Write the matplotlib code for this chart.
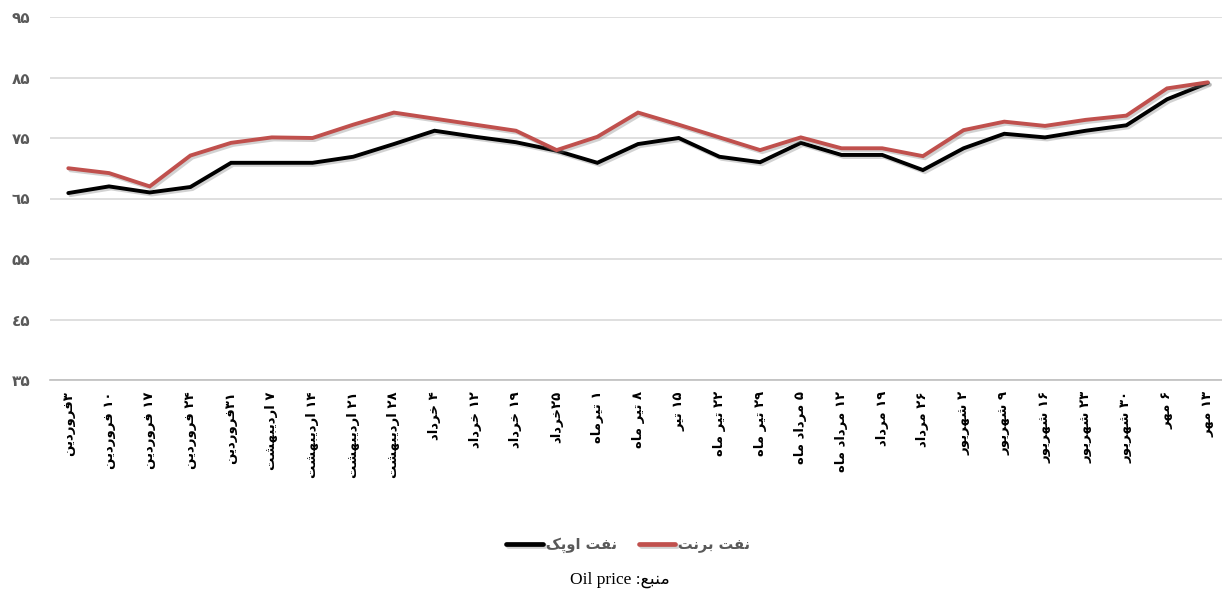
import matplotlib
matplotlib.use("Agg")
import matplotlib.pyplot as plt
import matplotlib.patheffects as pe

# ---------------- data ----------------
categories = [
    "۳فروردین", "۱۰ فروردین", "۱۷ فروردین", "۲۴ فروردین", "۳۱فروردین",
    "۷ اردیبهشت", "۱۴ اردیبهشت", "۲۱ اردیبهشت", "۲۸ اردیبهشت",
    "۴ خرداد", "۱۲ خرداد", "۱۹ خرداد", "۲۵خرداد",
    "۱ تیرماه", "۸ تیر ماه", "۱۵ تیر", "۲۲ تیر ماه", "۲۹ تیر ماه",
    "۵ مرداد ماه", "۱۲ مرداد ماه", "۱۹ مرداد", "۲۶ مرداد",
    "۲ شهریور", "۹ شهریور", "۱۶ شهریور", "۲۳ شهریور", "۳۰ شهریور",
    "۶ مهر", "۱۳ مهر",
]
opec = [65.9, 67.0, 66.0, 66.9, 70.9, 70.9, 70.9, 71.9, 74.0,
        76.2, 75.2, 74.3, 72.9, 70.9, 74.0, 75.0, 71.9, 71.0,
        74.2, 72.2, 72.2, 69.7, 73.3, 75.7, 75.1, 76.2, 77.1, 81.4, 84.1]
brent = [70.0, 69.2, 67.0, 72.1, 74.2, 75.1, 75.0, 77.2, 79.2,
         78.2, 77.2, 76.2, 73.0, 75.2, 79.2, 77.2, 75.1, 73.0,
         75.1, 73.3, 73.3, 72.0, 76.3, 77.7, 77.0, 78.0, 78.7, 83.2, 84.2]
series_names = ["نفت اوپک", "نفت برنت"]
yticks = [35, 45, 55, 65, 75, 85, 95]
ytick_labels = ["۳۵", "٤۵", "۵۵", "٦۵", "۷۵", "۸۵", "۹۵"]
source_label = "منبع"
source_name = "Oil price"

# ---------------- simple Arabic/Persian shaping ----------------
FORMS = {
    'ا': ('\uFE8D', '\uFE8E', None, None),
    'د': ('\uFEA9', '\uFEAA', None, None),
    'ر': ('\uFEAD', '\uFEAE', None, None),
    'ز': ('\uFEAF', '\uFEB0', None, None),
    'و': ('\uFEED', '\uFEEE', None, None),
    'ب': ('\uFE8F', '\uFE90', '\uFE91', '\uFE92'),
    'ت': ('\uFE95', '\uFE96', '\uFE97', '\uFE98'),
    'خ': ('\uFEA5', '\uFEA6', '\uFEA7', '\uFEA8'),
    'ش': ('\uFEB5', '\uFEB6', '\uFEB7', '\uFEB8'),
    'ع': ('\uFEC9', '\uFECA', '\uFECB', '\uFECC'),
    'ف': ('\uFED1', '\uFED2', '\uFED3', '\uFED4'),
    'م': ('\uFEE1', '\uFEE2', '\uFEE3', '\uFEE4'),
    'ن': ('\uFEE5', '\uFEE6', '\uFEE7', '\uFEE8'),
    'ه': ('\uFEE9', '\uFEEA', '\uFEEB', '\uFEEC'),
    'پ': ('\uFB56', '\uFB57', '\uFB58', '\uFB59'),
    'ک': ('\uFB8E', '\uFB8F', '\uFB90', '\uFB91'),
    'ی': ('\uFBFC', '\uFBFD', '\uFBFE', '\uFBFF'),
}
DIGITS = set("0123456789۰۱۲۳۴۵۶۷۸۹٠١٢٣٤٥٦٧٨٩")


def shape(s):
    out = []
    n = len(s)
    for i, c in enumerate(s):
        if c not in FORMS:
            out.append(c)
            continue
        iso, fin, ini, med = FORMS[c]
        prev = s[i - 1] if i > 0 else None
        nxt = s[i + 1] if i + 1 < n else None
        jp = prev in FORMS and FORMS[prev][2] is not None
        jn = ini is not None and nxt in FORMS
        if jp and jn:
            out.append(med)
        elif jp:
            out.append(fin)
        elif jn:
            out.append(ini)
        else:
            out.append(iso)
    shaped = "".join(out)
    # visual order: reverse, keeping digit runs left-to-right
    runs = []
    for ch in shaped:
        isd = ch in DIGITS
        if runs and runs[-1][0] == isd:
            runs[-1][1].append(ch)
        else:
            runs.append((isd, [ch]))
    vis = []
    for isd, chs in reversed(runs):
        vis.append("".join(chs) if isd else "".join(reversed(chs)))
    return "".join(vis)


# ---------------- figure ----------------
fig = plt.figure(figsize=(12.22, 5.96), dpi=100)
ax = fig.add_axes([50 / 1222, 1 - 380 / 596, 1172 / 1222, (380 - 17) / 596])
x = list(range(len(categories)))
ax.set_xlim(-0.45, len(categories) - 1 + 0.35)
ax.set_ylim(35, 95)

shadow = [pe.SimpleLineShadow(offset=(1.5, -1.5), shadow_color="#808080", alpha=0.35), pe.Normal()]
l1, = ax.plot(x, opec, color="#000000", lw=2.8, solid_capstyle="round",
              solid_joinstyle="miter", path_effects=shadow, zorder=3)
l2, = ax.plot(x, brent, color="#c0504d", lw=2.8, solid_capstyle="round",
              solid_joinstyle="miter", path_effects=shadow, zorder=4)

ax.set_yticks(yticks)
ax.set_yticklabels(ytick_labels, family="DejaVu Sans", fontweight="bold",
                   fontsize=11, color="#595959")
ax.set_xticks(x)
ax.set_xticklabels([shape(c) for c in categories], rotation=90, family="DejaVu Sans",
                   fontweight="bold", fontsize=9.5, color="#000000", va="top", ha="center")
ax.tick_params(axis="both", length=0)
ax.tick_params(axis="y", pad=14)
ax.tick_params(axis="x", pad=8)

ax.grid(axis="y", color="#d9d9d9", lw=1.2)
ax.set_axisbelow(True)
for s in ["top", "right", "left"]:
    ax.spines[s].set_visible(False)
ax.spines["bottom"].set_color("#bfbfbf")
ax.spines["bottom"].set_linewidth(1.2)

leg = fig.legend([l1, l2], [shape(n) for n in series_names], loc="center",
                 bbox_to_anchor=(0.514, 0.086), ncol=2, frameon=False,
                 handlelength=2.5, columnspacing=1.5, handletextpad=0.2,
                 prop={"family": "DejaVu Sans", "weight": "bold", "size": 10.5})
for t in leg.get_texts():
    t.set_color("#595959")
for h in leg.legend_handles:
    h.set_linewidth(3.4)

fig.text(0.507, 0.027, source_name + " :" + shape(source_label),
         ha="center", va="center", fontsize=12.5,
         family=["Liberation Serif", "DejaVu Sans"], color="#000000")

fig.savefig("out.png", dpi=100, facecolor="white")
